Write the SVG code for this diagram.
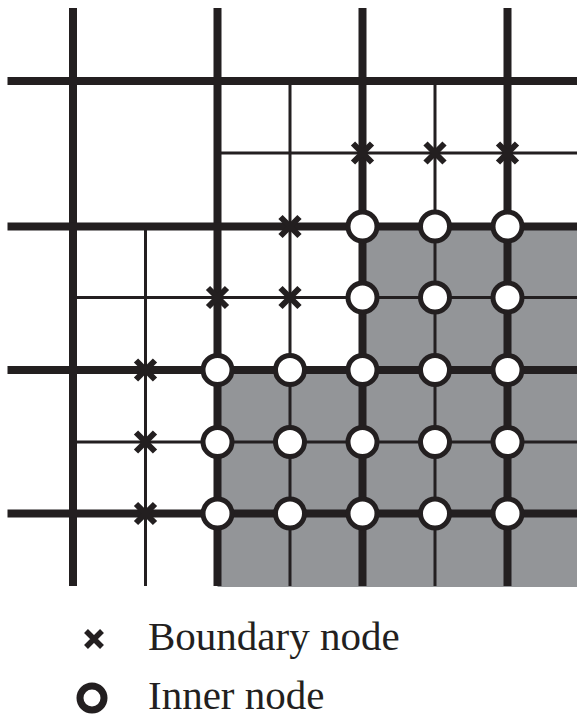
<svg xmlns="http://www.w3.org/2000/svg" width="577" height="719" viewBox="0 0 577 719">
<defs>
<style>
.thick{stroke:#231f20;stroke-width:8;fill:none}
.thin{stroke:#231f20;stroke-width:3;fill:none}
.bx{stroke:#231f20;stroke-width:6;fill:none}
.in{stroke:#231f20;stroke-width:5;fill:#fff}
.lbl{font-family:"Liberation Serif","Times New Roman",serif;font-size:41px;fill:#231f20}
</style>
<g id="cross"><path class="bx" d="M-9.5,-9.5L9.5,9.5M-9.5,9.5L9.5,-9.5"/></g>
<circle id="ring" r="14.5" class="in"/>
</defs>
<g id="shade" fill="#939598">
<path d="M362.5,226.5H577V587H217.5V370H362.5Z"/>
</g>
<g id="connectors">
<g id="thin-lines">
<line class="thin" x1="145.5" y1="226.5" x2="145.5" y2="586"/>
<line class="thin" x1="290" y1="81" x2="290" y2="586"/>
<line class="thin" x1="435" y1="81" x2="435" y2="586"/>
<line class="thin" x1="217.5" y1="153" x2="577" y2="153"/>
<line class="thin" x1="73" y1="297.5" x2="577" y2="297.5"/>
<line class="thin" x1="73" y1="442" x2="577" y2="442"/>
</g>
<g id="thick-lines">
<line class="thick" x1="73" y1="8" x2="73" y2="586"/>
<line class="thick" x1="217.5" y1="8" x2="217.5" y2="586"/>
<line class="thick" x1="362.5" y1="8" x2="362.5" y2="586"/>
<line class="thick" x1="507.5" y1="8" x2="507.5" y2="586"/>
<line class="thick" x1="7.5" y1="81" x2="577" y2="81"/>
<line class="thick" x1="7.5" y1="226.5" x2="577" y2="226.5"/>
<line class="thick" x1="7.5" y1="370" x2="577" y2="370"/>
<line class="thick" x1="7.5" y1="513.5" x2="577" y2="513.5"/>
</g>
</g>
<g id="boundary-nodes">
<use id="b1" href="#cross" x="362.5" y="153"/>
<use id="b2" href="#cross" x="435" y="153"/>
<use id="b3" href="#cross" x="507.5" y="153"/>
<use id="b4" href="#cross" x="290" y="226.5"/>
<use id="b5" href="#cross" x="217.5" y="297.5"/>
<use id="b6" href="#cross" x="290" y="297.5"/>
<use id="b7" href="#cross" x="145.5" y="370"/>
<use id="b8" href="#cross" x="145.5" y="442"/>
<use id="b9" href="#cross" x="145.5" y="513.5"/>
</g>
<g id="inner-nodes">
<use id="i1" href="#ring" x="362.5" y="226.5"/>
<use id="i2" href="#ring" x="435" y="226.5"/>
<use id="i3" href="#ring" x="507.5" y="226.5"/>
<use id="i4" href="#ring" x="362.5" y="297.5"/>
<use id="i5" href="#ring" x="435" y="297.5"/>
<use id="i6" href="#ring" x="507.5" y="297.5"/>
<use id="i7" href="#ring" x="217.5" y="370"/>
<use id="i8" href="#ring" x="290" y="370"/>
<use id="i9" href="#ring" x="362.5" y="370"/>
<use id="i10" href="#ring" x="435" y="370"/>
<use id="i11" href="#ring" x="507.5" y="370"/>
<use id="i12" href="#ring" x="217.5" y="442"/>
<use id="i13" href="#ring" x="290" y="442"/>
<use id="i14" href="#ring" x="362.5" y="442"/>
<use id="i15" href="#ring" x="435" y="442"/>
<use id="i16" href="#ring" x="507.5" y="442"/>
<use id="i17" href="#ring" x="217.5" y="513.5"/>
<use id="i18" href="#ring" x="290" y="513.5"/>
<use id="i19" href="#ring" x="362.5" y="513.5"/>
<use id="i20" href="#ring" x="435" y="513.5"/>
<use id="i21" href="#ring" x="507.5" y="513.5"/>
</g>
<g id="legend">
<g id="legend-boundary">
<path d="M86,631L102,647M86,647L102,631" stroke="#231f20" stroke-width="5.5" fill="none"/>
<text class="lbl" x="148" y="650">Boundary node</text>
</g>
<g id="legend-inner">
<circle cx="92" cy="698" r="12" fill="none" stroke="#231f20" stroke-width="7"/>
<text class="lbl" x="148" y="709">Inner node</text>
</g>
</g>
</svg>
